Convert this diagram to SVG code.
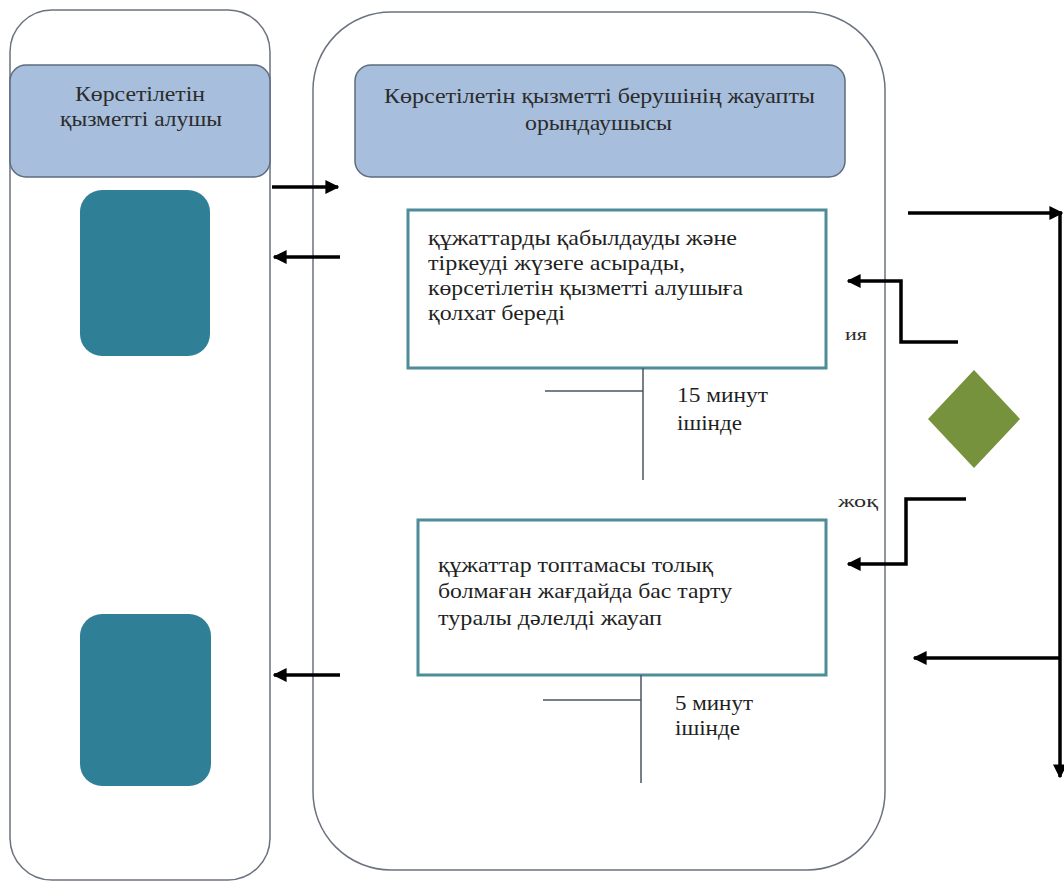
<svg xmlns="http://www.w3.org/2000/svg" width="1064" height="881" viewBox="0 0 1064 881">
<defs>
<style>
.lane{fill:#fff;stroke:#6b7280;stroke-width:1.5}
.hdr{fill:#a7bedc;stroke:#5d6b7e;stroke-width:1.5}
.t{fill:#1f1f1f;font-size:22px}
.h{fill:#2b2b2b;font-size:21px}
.box{fill:#fff;stroke:#4d8c98;stroke-width:3}
.blk{fill:#2f7f97}
.c{fill:none;stroke:#000;stroke-width:3.5}
.g{fill:none;stroke:#4b5563;stroke-width:1.5}
.lbl{fill:#2b2b2b;font-size:17px}
</style>
<marker id="ah" viewBox="0 0 10 10" refX="9" refY="5" markerWidth="4" markerHeight="4" orient="auto" markerUnits="strokeWidth">
<path d="M0,0 L10,5 L0,10 z" fill="#000"/>
</marker>
</defs>
<rect width="1064" height="881" fill="#fff"/>
<g font-family="Liberation Serif, DejaVu Serif, Times New Roman, serif" lengthAdjust="spacingAndGlyphs">
<g id="lane-recipient">
<rect class="lane" x="10" y="10" width="260" height="870" rx="42"/>
<rect class="hdr" x="10" y="65" width="260" height="112" rx="16"/>
<text class="h" x="75" y="101" textLength="130" lengthAdjust="spacingAndGlyphs">Көрсетілетін</text>
<text class="h" x="60" y="126" textLength="162" lengthAdjust="spacingAndGlyphs">қызметті алушы</text>
</g>
<g id="lane-provider">
<rect class="lane" x="313" y="12" width="572" height="858" rx="78"/>
<rect class="hdr" x="355" y="65" width="490" height="112" rx="16"/>
<text class="h" x="384" y="103" textLength="431" lengthAdjust="spacingAndGlyphs">Көрсетілетін қызметті берушінің жауапты</text>
<text class="h" x="525" y="130" textLength="147" lengthAdjust="spacingAndGlyphs">орындаушысы</text>
</g>
<g id="start-block"><rect class="blk" x="80" y="190" width="130" height="166" rx="22"/></g>
<g id="end-block"><rect class="blk" x="80" y="614" width="131" height="172" rx="22"/></g>
<g id="step1">
<rect class="box" x="408" y="210" width="418" height="158"/>
<text class="t" x="428" y="245" textLength="309" lengthAdjust="spacingAndGlyphs">құжаттарды қабылдауды және</text>
<text class="t" x="428" y="270" textLength="257" lengthAdjust="spacingAndGlyphs">тіркеуді жүзеге асырады,</text>
<text class="t" x="428" y="295" textLength="315" lengthAdjust="spacingAndGlyphs">көрсетілетін қызметті алушыға</text>
<text class="t" x="428" y="320" textLength="137" lengthAdjust="spacingAndGlyphs">қолхат береді</text>
</g>
<g id="step2">
<rect class="box" x="418" y="520" width="408" height="155"/>
<text class="t" x="438" y="572" textLength="275" lengthAdjust="spacingAndGlyphs">құжаттар топтамасы толық</text>
<text class="t" x="438" y="598" textLength="294" lengthAdjust="spacingAndGlyphs">болмаған жағдайда бас тарту</text>
<text class="t" x="438" y="625" textLength="224" lengthAdjust="spacingAndGlyphs">туралы дәлелді жауап</text>
</g>
<g id="decision"><polygon points="974,370 1020,419 974,468 928,419" fill="#76923c"/></g>
<g id="time1">
<text class="t" x="677" y="402" textLength="91" lengthAdjust="spacingAndGlyphs">15 минут</text>
<text class="t" x="677" y="430" textLength="65" lengthAdjust="spacingAndGlyphs">ішінде</text>
</g>
<g id="time2">
<text class="t" x="675" y="710" textLength="78" lengthAdjust="spacingAndGlyphs">5 минут</text>
<text class="t" x="675" y="735" textLength="65" lengthAdjust="spacingAndGlyphs">ішінде</text>
</g>
<g id="connectors">
<path class="g" d="M643,368 V480 M545,391 H643"/>
<path class="g" d="M641,675 V783 M543,700 H641"/>
<path class="c" d="M272,187 H338" marker-end="url(#ah)"/>
<path class="c" d="M340,257 H274" marker-end="url(#ah)"/>
<path class="c" d="M340,675 H274" marker-end="url(#ah)"/>
<path class="c" d="M958,342 H901 V281 H848" marker-end="url(#ah)"/>
<path class="c" d="M966,499 H906 V564 H848" marker-end="url(#ah)"/>
<path class="c" d="M908,213 H1062" marker-end="url(#ah)"/>
<path class="c" d="M1060,213 V777" marker-end="url(#ah)"/>
<path class="c" d="M1060,658 H914" marker-end="url(#ah)"/>
<text class="lbl" x="845" y="340" textLength="22" lengthAdjust="spacingAndGlyphs">ия</text>
<text class="lbl" x="838" y="507" textLength="40" lengthAdjust="spacingAndGlyphs">жоқ</text>
</g>
</g>
</svg>
